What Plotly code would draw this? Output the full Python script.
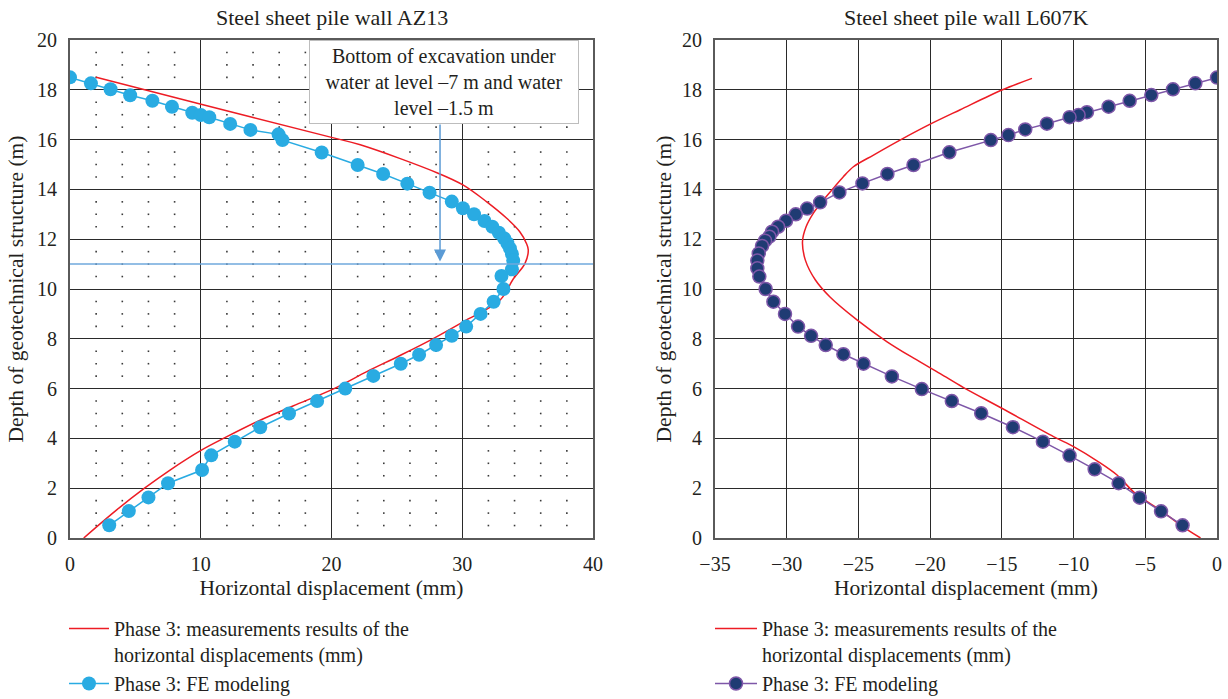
import numpy as np
import plotly.graph_objects as go

# ---------------- data ----------------
# Left: Steel sheet pile wall AZ13
az_meas_x = [1.05, 3.55, 5.7, 7.65, 10.05, 11.85, 14.5, 17.05, 20.2, 22.7, 25.2, 27.75, 30.1,
             32.9, 33.9, 34.8, 35.05, 34.9, 34.4, 33.4, 31.85, 30.05, 28.15, 22.2, 20.0, 9.95, 2.0]
az_meas_y = [0.0, 1.12, 2.0, 2.73, 3.53, 4.03, 4.72, 5.3, 6.0, 6.68, 7.32, 8.0, 8.69,
             9.56, 10.4, 11.03, 11.57, 11.84, 12.3, 12.84, 13.51, 14.18, 14.65, 15.79, 16.09, 17.43, 18.5]

az_fe_x = [0.0, 1.6, 3.1, 4.6, 6.3, 7.8, 9.35, 10.0, 10.65, 12.25, 13.8, 15.95, 16.25, 19.25,
           22.0, 23.95, 25.8, 27.5, 29.2, 30.05, 30.9, 31.7, 32.3, 32.8, 33.2, 33.45, 33.65, 33.8,
           33.9, 33.8, 33.0, 33.15, 32.4, 31.4, 30.3, 29.2, 28.0, 26.7, 25.3, 23.2, 21.05, 18.9,
           16.75, 14.55, 12.6, 10.8, 10.1, 7.5, 6.0, 4.5, 3.0]
az_fe_y = [18.5, 18.26, 18.02, 17.78, 17.56, 17.32, 17.08, 16.99, 16.9, 16.63, 16.39, 16.21, 15.98,
           15.48, 14.98, 14.62, 14.23, 13.87, 13.51, 13.24, 13.0, 12.73, 12.5, 12.26, 12.04, 11.84,
           11.63, 11.41, 11.14, 10.79, 10.52, 10.0, 9.49, 9.0, 8.49, 8.12, 7.75, 7.36, 7.0, 6.51,
           6.0, 5.5, 5.0, 4.45, 3.87, 3.32, 2.73, 2.2, 1.63, 1.08, 0.51]

# Right: Steel sheet pile wall L607K
lk_meas_x = [-1.15, -2.55, -3.95, -5.7, -6.97, -8.26, -10.0, -11.4, -15.0, -17.7, -19.3, -21.15,
             -23.0, -25.1, -27.0, -28.0, -28.7, -28.9, -28.65, -28.15, -27.45, -26.7, -26.05,
             -25.35, -23.95, -22.1, -20.1, -17.9, -15.0, -12.9]
lk_meas_y = [0.0, 0.52, 1.12, 1.79, 2.53, 3.06, 3.67, 4.07, 5.21, 6.05, 6.6, 7.22, 7.88, 8.76,
             9.69, 10.36, 11.16, 11.9, 12.5, 13.04, 13.57, 14.08, 14.51, 14.91, 15.38, 15.98,
             16.59, 17.2, 17.99, 18.46]

lk_fe_x = [0.0, -1.51, -3.07, -4.58, -6.09, -7.56, -9.07, -9.65, -10.28, -11.86, -13.37, -14.54,
           -15.77, -18.66, -21.16, -22.98, -24.72, -26.33, -27.67, -28.58, -29.37, -30.05, -30.6,
           -31.02, -31.21, -31.51, -31.72, -31.95, -32.05, -32.05, -31.91, -31.47, -30.93, -30.12,
           -29.21, -28.3, -27.28, -26.05, -24.65, -22.67, -20.58, -18.49, -16.44, -14.23, -12.14,
           -10.28, -8.53, -6.86, -5.39, -3.9, -2.4]
lk_fe_y = [18.49, 18.26, 18.02, 17.79, 17.56, 17.32, 17.1, 16.99, 16.9, 16.64, 16.41, 16.18, 15.98,
           15.49, 14.98, 14.62, 14.24, 13.88, 13.48, 13.23, 13.0, 12.74, 12.5, 12.3, 12.1, 11.94,
           11.73, 11.43, 11.14, 10.83, 10.5, 10.0, 9.49, 9.0, 8.49, 8.12, 7.75, 7.38, 7.0, 6.49,
           5.98, 5.5, 5.01, 4.45, 3.87, 3.31, 2.76, 2.2, 1.62, 1.07, 0.51]

excavation_level = 11.0
arrow_x = 28.3
arrow_from_y = 16.67
arrow_to_y = 11.1

left_xticks = [0, 10, 20, 30, 40]
right_xticks = [-35, -30, -25, -20, -15, -10, -5, 0]
yticks = list(range(0, 21, 2))

meas_name = "Phase 3: measurements results of the<br>horizontal displacements (mm)"
fe_name = "Phase 3: FE modeling"

# ---------------- styling ----------------
W, H = 1228, 699
FONT = "Liberation Serif"
TXT = "#231f20"
RED = "#ED1C24"
CYAN = "#29ABE2"
NAVY = "#1F3B73"
PURPLE = "#7E57A8"
GRID = "#2a2a2a"
FRAME = "#5a5a5a"

def px_x(p):
    return p / W

def px_y(p):
    return 1 - p / H

L_DOM = [px_x(70), px_x(593)]
R_DOM = [px_x(715), px_x(1217)]
Y_DOM = [px_y(538), px_y(40)]

fig = go.Figure()

# dotted minor grid (left chart only)
gx, gy = np.meshgrid([v for v in np.arange(0, 41, 2) if v % 10 != 0],
                     [v for v in np.arange(0, 20.01, 0.5) if v % 2 != 0])
fig.add_trace(go.Scatter(x=gx.ravel(), y=gy.ravel(), mode="markers",
                         marker=dict(symbol="square", size=1.6, color="#3a3a3a", line=dict(width=0)),
                         hoverinfo="skip", showlegend=False, xaxis="x", yaxis="y"))

fig.add_trace(go.Scatter(x=az_meas_x, y=az_meas_y, mode="lines", name=meas_name,
                         line=dict(color=RED, width=1.5, shape="spline", smoothing=1.0),
                         xaxis="x", yaxis="y", legend="legend"))
fig.add_trace(go.Scatter(x=az_fe_x, y=az_fe_y, mode="lines+markers", name=fe_name,
                         line=dict(color=CYAN, width=1.5),
                         marker=dict(color=CYAN, size=14, line=dict(color=CYAN, width=0)),
                         xaxis="x", yaxis="y", legend="legend"))

fig.add_trace(go.Scatter(x=lk_meas_x, y=lk_meas_y, mode="lines", name=meas_name,
                         line=dict(color=RED, width=1.5, shape="spline", smoothing=0.9),
                         xaxis="x2", yaxis="y2", legend="legend2"))
fig.add_trace(go.Scatter(x=lk_fe_x, y=lk_fe_y, mode="lines+markers", name=fe_name,
                         line=dict(color=PURPLE, width=1.5),
                         marker=dict(color=NAVY, size=13, line=dict(color=PURPLE, width=1.5)),
                         xaxis="x2", yaxis="y2", legend="legend2"))

axis_common = dict(showgrid=True, gridcolor=GRID, gridwidth=1.3, zeroline=False,
                   showline=True, linecolor=FRAME, linewidth=2, mirror=True,
                   ticks="", tickfont=dict(family=FONT, size=20, color=TXT),
                   ticklabelstandoff=7, automargin=False)

TITLE_FONT = dict(family=FONT, size=21.5, color=TXT)
LEG_FONT = dict(family=FONT, size=20, color=TXT)

fig.update_layout(
    width=W, height=H,
    margin=dict(l=0, r=0, t=0, b=0, autoexpand=False),
    paper_bgcolor="white", plot_bgcolor="white",
    font=dict(family=FONT, size=20, color=TXT),
    xaxis=dict(domain=L_DOM, range=[0, 40], tickvals=left_xticks, anchor="y",
               title=dict(text="Horizontal displacement (mm)", font=TITLE_FONT, standoff=6),
               **axis_common),
    yaxis=dict(domain=Y_DOM, range=[0, 20], tickvals=yticks, anchor="x",
               title=dict(text="Depth of geotechnical structure (m)", font=TITLE_FONT, standoff=7),
               **axis_common),
    xaxis2=dict(domain=R_DOM, range=[-35, 0], tickvals=right_xticks, anchor="y2",
                title=dict(text="Horizontal displacement (mm)", font=TITLE_FONT, standoff=6),
                **axis_common),
    yaxis2=dict(domain=Y_DOM, range=[0, 20], tickvals=yticks, anchor="x2",
                title=dict(text="Depth of geotechnical structure (m)", font=TITLE_FONT, standoff=4),
                **axis_common),
    legend=dict(x=px_x(64), y=px_y(609), xanchor="left", yanchor="top",
                bgcolor="rgba(0,0,0,0)", font=LEG_FONT,
                valign="top", tracegroupgap=0, itemwidth=40),
    legend2=dict(x=px_x(710), y=px_y(609), xanchor="left", yanchor="top",
                 bgcolor="rgba(0,0,0,0)", font=LEG_FONT,
                 valign="top", tracegroupgap=0, itemwidth=42),
)

# excavation level line
fig.add_shape(type="line", xref="x", yref="y", x0=0, x1=40, y0=excavation_level, y1=excavation_level,
              line=dict(color="#6FA8DC", width=1.5), layer="above")

# arrow from the note to the excavation level
fig.add_annotation(xref="x", yref="y", axref="x", ayref="y",
                   x=arrow_x, y=arrow_to_y, ax=arrow_x, ay=arrow_from_y,
                   text="", showarrow=True, arrowhead=2, arrowsize=1.6, arrowwidth=1.5,
                   arrowcolor="#5B9BD5")

# note box
fig.add_annotation(xref="paper", yref="paper", x=px_x(444), y=px_y(82),
                   xanchor="center", yanchor="middle", width=260,
                   text="Bottom of excavation under<br>water at level \u20137 m and water<br>level \u20131.5 m",
                   showarrow=False, align="center", bgcolor="white",
                   bordercolor="#BDBDBD", borderwidth=1, borderpad=4,
                   font=dict(family=FONT, size=20, color=TXT))

# chart titles
fig.add_annotation(xref="paper", yref="paper", x=(L_DOM[0] + L_DOM[1]) / 2, y=px_y(18),
                   xanchor="center", yanchor="middle", showarrow=False,
                   text="Steel sheet pile wall AZ13", font=dict(family=FONT, size=22, color=TXT))
fig.add_annotation(xref="paper", yref="paper", x=(R_DOM[0] + R_DOM[1]) / 2, y=px_y(18),
                   xanchor="center", yanchor="middle", showarrow=False,
                   text="Steel sheet pile wall L607K", font=dict(family=FONT, size=22, color=TXT))

fig.write_html("out.html")
